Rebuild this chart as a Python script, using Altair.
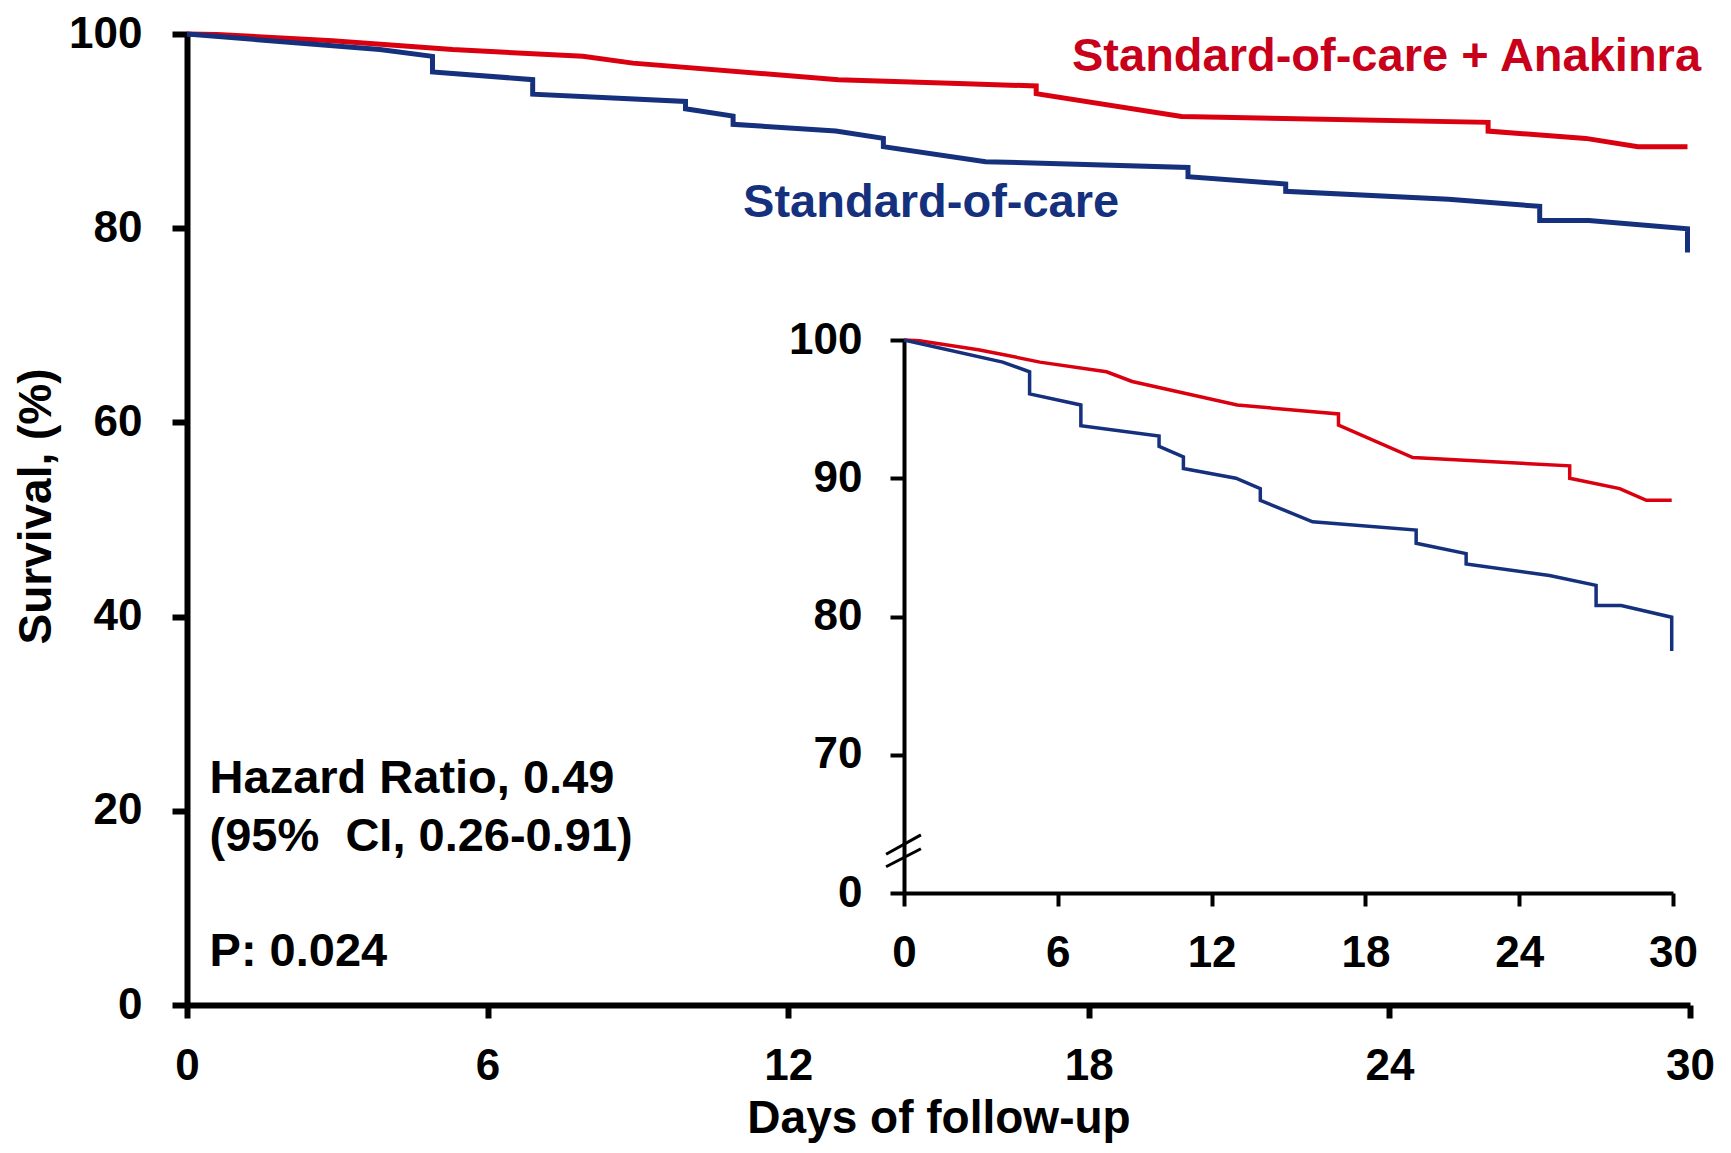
import altair as alt
import pandas as pd

# ---------------- data ----------------
arm_names = ["Standard-of-care + Anakinra", "Standard-of-care"]

red_days = [0, 0.6, 2.9, 4.0, 5.3, 7.9, 8.9, 13.0, 15.4, 16.95, 16.95, 19.85, 25.97, 25.97, 27.92, 28.96, 29.95]
red_surv = [100, 99.95, 99.3, 98.9, 98.4, 97.7, 97.0, 95.3, 94.9, 94.65, 93.85, 91.5, 90.9, 90.0, 89.25, 88.4, 88.4]

blue_days = [0, 3.85, 4.9, 4.9, 6.9, 6.9, 9.95, 9.95, 10.9, 10.9, 12.95, 13.9, 13.9, 15.94, 19.98, 19.98,
             21.93, 21.93, 25.18, 27.0, 27.0, 27.98, 29.95, 29.95]
blue_surv = [100, 98.4, 97.7, 96.1, 95.3, 93.8, 93.05, 92.3, 91.55, 90.7, 90.0, 89.25, 88.4, 86.85, 86.25, 85.3,
             84.55, 83.8, 82.97, 82.25, 80.8, 80.8, 79.95, 77.5]

x_ticks = [0, 6, 12, 18, 24, 30]
main_y_ticks = [0, 20, 40, 60, 80, 100]
inset_y_ticks = [60, 70, 80, 90, 100]   # 60 sits below the axis break and is labelled "0"

# annotations (in main-plot data coordinates)
note_text = ["Hazard Ratio, 0.49", "(95%\u00a0 CI, 0.26-0.91)", "P: 0.024"]
note_day = [0.45, 0.45, 0.45]
note_surv = [23.3, 17.3, 5.45]

label_text = ["Standard-of-care + Anakinra", "Standard-of-care"]
label_day = [30.22, 11.1]
label_surv = [97.6, 82.6]

# axis-break marks (inset data coordinates)
brk_day = [-0.7, -0.7]
brk_day2 = [0.66, 0.66]
brk_surv = [62.8, 61.9]
brk_surv2 = [64.2, 63.2]

RED = "#DA0010"
RED_TEXT = "#C8001A"
BLUE = "#15307C"
FONT = "Liberation Sans"

# ---------------- frames ----------------
curves = pd.DataFrame({
    "day": red_days + blue_days,
    "surv": red_surv + blue_surv,
    "arm": [arm_names[0]] * len(red_days) + [arm_names[1]] * len(blue_days),
    "idx": list(range(len(red_days))) + list(range(len(blue_days))),
})
notes = pd.DataFrame({"day": note_day, "surv": note_surv, "text": note_text})
lab_red = pd.DataFrame({"day": label_day[:1], "surv": label_surv[:1], "text": label_text[:1]})
lab_blue = pd.DataFrame({"day": label_day[1:], "surv": label_surv[1:], "text": label_text[1:]})
brk = pd.DataFrame({"day": brk_day, "day2": brk_day2, "surv": brk_surv, "surv2": brk_surv2})

color = alt.Color("arm:N", scale=alt.Scale(domain=arm_names, range=[RED, BLUE]), legend=None)

axis_common = dict(
    grid=False, domainColor="black", tickColor="black", labelColor="black", labelFlush=False,
    labelFont=FONT, labelFontSize=44, labelFontWeight="bold",
    titleFont=FONT, titleFontWeight="bold", titleColor="black",
)

# ---------------- main plot ----------------
main_x = alt.X("day:Q", scale=alt.Scale(domain=[0, 30], nice=False, zero=False),
               axis=alt.Axis(values=x_ticks, title="Days of follow-up", titleFontSize=46, domainWidth=6,
                             tickWidth=6, tickSize=13, labelPadding=26, titlePadding=8, **axis_common))
main_y = alt.Y("surv:Q", scale=alt.Scale(domain=[0, 100], nice=False),
               axis=alt.Axis(values=main_y_ticks, title="Survival, (%)", titleFontSize=46, domainWidth=6,
                             tickWidth=6, tickSize=15, labelPadding=30, titlePadding=8, titleY=472,
                             **axis_common))

main_lines = alt.Chart(curves).mark_line(strokeWidth=5, strokeCap="butt", strokeJoin="miter").encode(
    x=main_x, y=main_y, color=color, order="idx:Q")

text_style = dict(baseline="middle", font=FONT, fontSize=47, fontWeight="bold")

main_notes = alt.Chart(notes).mark_text(align="left", color="black", **text_style).encode(
    x=main_x, y=main_y, text="text:N")

main_lab_red = alt.Chart(lab_red).mark_text(align="right", color=RED_TEXT, **text_style).encode(
    x=main_x, y=main_y, text="text:N")

main_lab_blue = alt.Chart(lab_blue).mark_text(align="left", color=BLUE, **text_style).encode(
    x=main_x, y=main_y, text="text:N")

main_layer = alt.layer(main_lines, main_notes, main_lab_red, main_lab_blue)

# ---------------- inset ----------------
inset_x = alt.X("day:Q", scale=alt.Scale(domain=[0, 30], nice=False, zero=False, range=[717, 1486]),
                axis=alt.Axis(values=x_ticks, title=None, orient="bottom", offset=-112, domainWidth=4,
                              tickWidth=4, tickSize=13, labelPadding=25, **axis_common))
inset_y = alt.Y("surv:Q", scale=alt.Scale(domain=[60, 100], nice=False, zero=False, range=[859, 306]),
                axis=alt.Axis(values=inset_y_ticks, title=None, orient="left", offset=-717, domainWidth=4,
                              tickWidth=4, tickSize=14, labelPadding=28,
                              labelExpr="datum.value == 60 ? '0' : datum.label", **axis_common))

inset_lines = alt.Chart(curves).mark_line(strokeWidth=3.5, strokeCap="butt").encode(
    x=inset_x, y=inset_y, color=color, order="idx:Q")

inset_brk = alt.Chart(brk).mark_rule(strokeWidth=3, color="black").encode(
    x=inset_x, x2="day2:Q", y=inset_y, y2="surv2:Q")

inset_layer = alt.layer(inset_lines, inset_brk)

chart = alt.layer(main_layer, inset_layer).resolve_scale(
    x="independent", y="independent"
).properties(
    width=1503, height=971,
    autosize=alt.AutoSizeParams(type="none"),
    padding={"left": 179, "top": 26, "right": 33, "bottom": 140},
    background="white",
).configure_view(stroke=None)

chart.save("out.html", embed_options={"renderer": "svg", "actions": False})
